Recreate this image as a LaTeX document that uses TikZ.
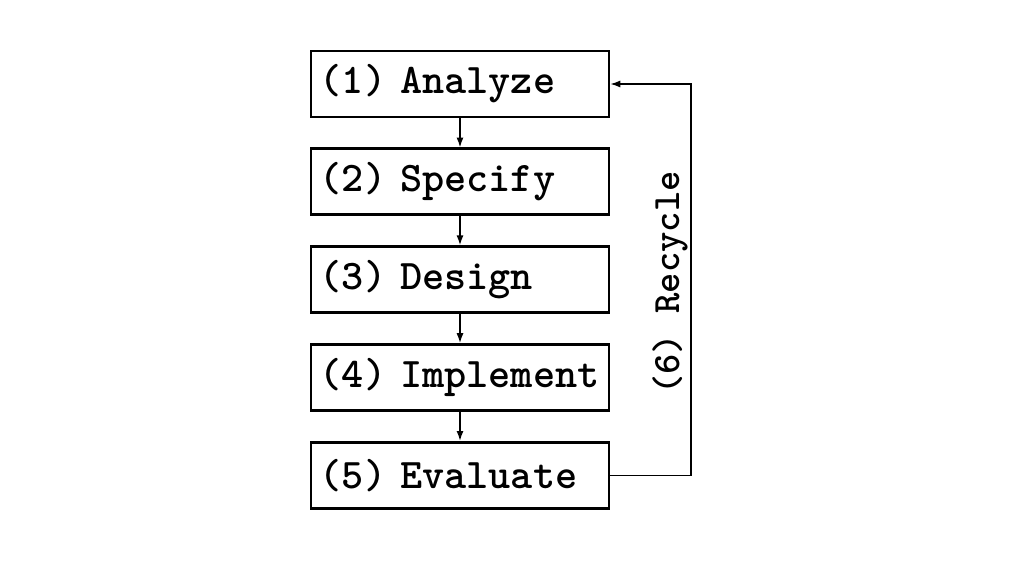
\documentclass[tikz,border=0pt]{standalone}
\usepackage{tikz}
\usetikzlibrary{positioning,arrows.meta}

\tikzset{
  stage/.style={draw,line width=2pt,minimum height=1.65cm,text width=7.01cm,
    inner xsep=0.22cm,align=left,font=\fontsize{30}{34}\selectfont\ttfamily\bfseries},
  flow/.style={line width=1pt,-{Latex[length=7pt,width=5pt]}}
}

\begin{document}
\begin{tikzpicture}[x=1cm,y=1cm,node distance=0.725cm]
  \useasboundingbox (0,0) rectangle (25.6,-14.4);
  \node[stage] (analyze) at (11.5,-2.1) {(1) Analyze};
  \node[stage,below=of analyze] (specify) {(2) Specify};
  \node[stage,below=of specify] (design) {(3) Design};
  \node[stage,below=of design] (implement) {(4) Implement};
  \node[stage,below=of implement] (evaluate) {(5) Evaluate};
  \draw[flow] (analyze) -- (specify);
  \draw[flow] (specify) -- (design);
  \draw[flow] (design) -- (implement);
  \draw[flow] (implement) -- (evaluate);
  % loop back to the top
  \coordinate (turn) at (17.275,0);
  \draw[flow] (evaluate.east) -- (evaluate.east -| turn) |- (analyze.east);
  \node[rotate=90,font=\fontsize{27.5}{32}\selectfont\ttfamily\bfseries] (recycle)
    at (16.75,-7.075) {(6) Recycle};
\end{tikzpicture}
\end{document}
